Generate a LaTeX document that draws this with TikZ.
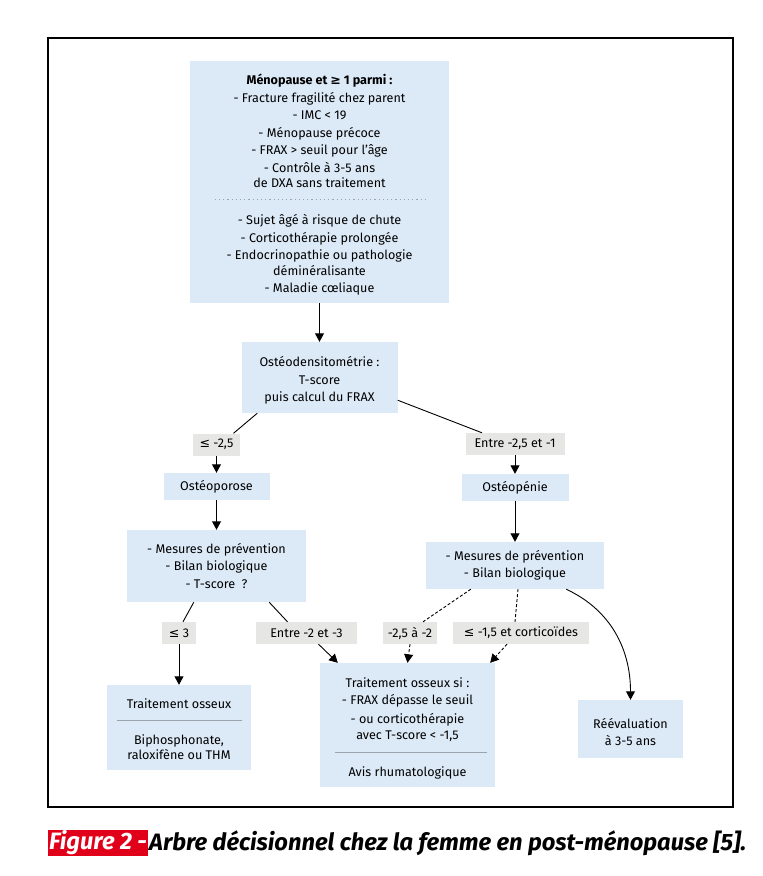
\documentclass[tikz,border=0pt]{standalone}
\usepackage{fontspec}
\setmainfont{Fira Sans}
\newfontfamily\symfont{DejaVu Sans}
\usetikzlibrary{arrows.meta}
\definecolor{boxblue}{HTML}{DCE9F6}
\definecolor{labelgrey}{HTML}{E6E6E4}
\definecolor{rulegrey}{HTML}{9BA3AC}
\definecolor{figred}{HTML}{E1001A}
\newcommand{\lesign}{{\symfont ≤}}
\newcommand{\gesign}{{\symfont ≥}}
\newcommand{\padtop}[1]{\rule{0pt}{#1}}
\tikzset{
  bluebox/.style={fill=boxblue,inner sep=0pt,align=center},
  greylabel/.style={fill=labelgrey,inner sep=0pt,minimum height=22pt,align=center},
  link/.style={line width=0.9pt},
  arr/.style={link,-{Triangle[length=8.5pt,width=9pt]}},
  dashlink/.style={link,dash pattern=on 3pt off 2pt},
  sepline/.style={rulegrey,line width=1pt}
}
\begin{document}
\begin{tikzpicture}[x=1pt,y=1pt]
\fontsize{12.6}{17.5}\selectfont
\useasboundingbox (0,0) rectangle (763,-876);
\draw[line width=1.4pt] (48,-38) rectangle (733,-807);
  \node[bluebox,minimum width=259pt,minimum height=242pt] (crit) at (319.5,-182)
    {\padtop{16pt}\textbf{Ménopause et \gesign{} 1 parmi~:}\\
     - Fracture fragilité chez parent\\
     - IMC < 19\\
     - Ménopause précoce\\
     - FRAX > seuil pour l'âge\\
     - Contrôle à 3-5 ans\\[-2pt]
     de DXA sans traitement\\[19.5pt]
     - Sujet âgé à risque de chute\\
     - Corticothérapie prolongée\\
     - Endocrinopathie ou pathologie\\[-2pt]
     déminéralisante\\
     - Maladie cœliaque};
  \draw[rulegrey,line width=1pt,dash pattern=on 1.2pt off 3pt]
    ([xshift=25pt,yshift=-139pt]crit.north west) -- ([xshift=-22pt,yshift=-139pt]crit.north east);
  \node[bluebox,minimum width=156pt,minimum height=71pt] (osteo) at (319.5,-377.5)
    {\padtop{16pt}Ostéodensitométrie~:\\ T-score\\ puis calcul du FRAX};
  \draw[arr] (crit) -- (osteo);
  \node[greylabel,minimum width=47pt] (lblA) at (216.5,-444.5) {\lesign{} -2,5};
  \node[greylabel,minimum width=99pt] (lblB) at (515,-444) {Entre -2,5 et -1};
  \draw[link] ([xshift=16pt]osteo.south west) -- ([xshift=17pt]lblA.north);
  \draw[link] ([yshift=13pt]osteo.south east) -- ([xshift=-33pt]lblB.north);
  \node[bluebox,minimum width=106pt,minimum height=27pt] (porose) at (216.5,-486.5) {Ostéoporose};
  \node[bluebox,minimum width=107pt,minimum height=27pt] (penie) at (515,-487.5) {Ostéopénie};
  \draw[arr] (lblA) -- (porose);
  \draw[arr] (lblB) -- (penie);
  \node[bluebox,minimum width=179pt,minimum height=72pt] (mesA) at (216.5,-566)
    {- Mesures de prévention\\ - Bilan biologique\\ - T-score\enspace?};
  \node[bluebox,minimum width=178pt,minimum height=47pt] (mesB) at (515,-565.5)
    {- Mesures de prévention\\ - Bilan biologique};
  \draw[arr] (porose) -- (mesA);
  \draw[arr] (penie) -- (mesB);
  \node[greylabel,minimum width=34pt] (lblC) at (179,-633) {\lesign{} 3};
  \node[greylabel,minimum width=101pt] (lblD) at (306.5,-633) {Entre -2 et -3};
  \node[greylabel,minimum width=54pt] (lblE) at (410,-633) {-2,5 à -2};
  \node[greylabel,minimum width=136pt] (lblF) at (521,-633) {\lesign{} -1,5 et corticoïdes};
  \draw[link] ([xshift=67pt]mesA.south west) -- ([xshift=4pt]lblC.north);
  \draw[link] ([xshift=-37pt]mesA.south east) -- ([xshift=-19pt]lblD.north);
  \draw[dashlink] ([xshift=45pt]mesB.south west) -- ([xshift=13pt]lblE.north);
  \draw[dashlink] ([xshift=3pt]mesB.south) -- ([xshift=-6pt]lblF.north);
  \node[bluebox,minimum width=144pt,minimum height=85pt] (trtA) at (179,-727.5)
    {\padtop{13pt}Traitement osseux\\[18.5pt] Biphosphonate,\\[-2.5pt] raloxifène ou THM};
  \draw[sepline] ([xshift=10pt,yshift=-36pt]trtA.north west) -- ([xshift=-9pt,yshift=-36pt]trtA.north east);
  \node[bluebox,minimum width=175pt,minimum height=124pt] (trtB) at (407.5,-725)
    {\padtop{16pt}Traitement osseux si~:\\ - FRAX dépasse le seuil\\[1pt] - ou corticothérapie\\[-1pt]
     avec T-score < -1,5\\[19pt] Avis rhumatologique};
  \draw[sepline] ([xshift=15pt,yshift=-90pt]trtB.north west) -- ([xshift=-8pt,yshift=-90pt]trtB.north east);
  \node[bluebox,minimum width=105pt,minimum height=58pt] (reev) at (630.5,-729)
    {\padtop{16pt}Réévaluation\\ à 3-5 ans};
  \draw[arr] (lblC) -- (trtA);
  \draw[arr] ([xshift=12pt]lblD.south) -- ([xshift=18pt]trtB.north west);
  \draw[dashlink,arr] (lblE.south) -- (trtB.north);
  \draw[dashlink,arr] ([xshift=-14pt]lblF.south) -- ([xshift=-5pt]trtB.north east);
  \draw[arr] ([xshift=-38pt]mesB.south east) to[out=-25,in=90] (reev.north);
  \node[fill=figred,text=white,font=\fontsize{23.7}{26}\selectfont\bfseries\itshape,
    inner xsep=1pt,inner ysep=1pt,anchor=west] (figtag) at (48,-843) {Figure 2 -};
  \node[font=\fontsize{23.7}{26}\selectfont\bfseries\itshape,inner xsep=1pt,anchor=west]
    (figcap) at (figtag.east) {Arbre décisionnel chez la femme en post-ménopause [5].};
\end{tikzpicture}
\end{document}
